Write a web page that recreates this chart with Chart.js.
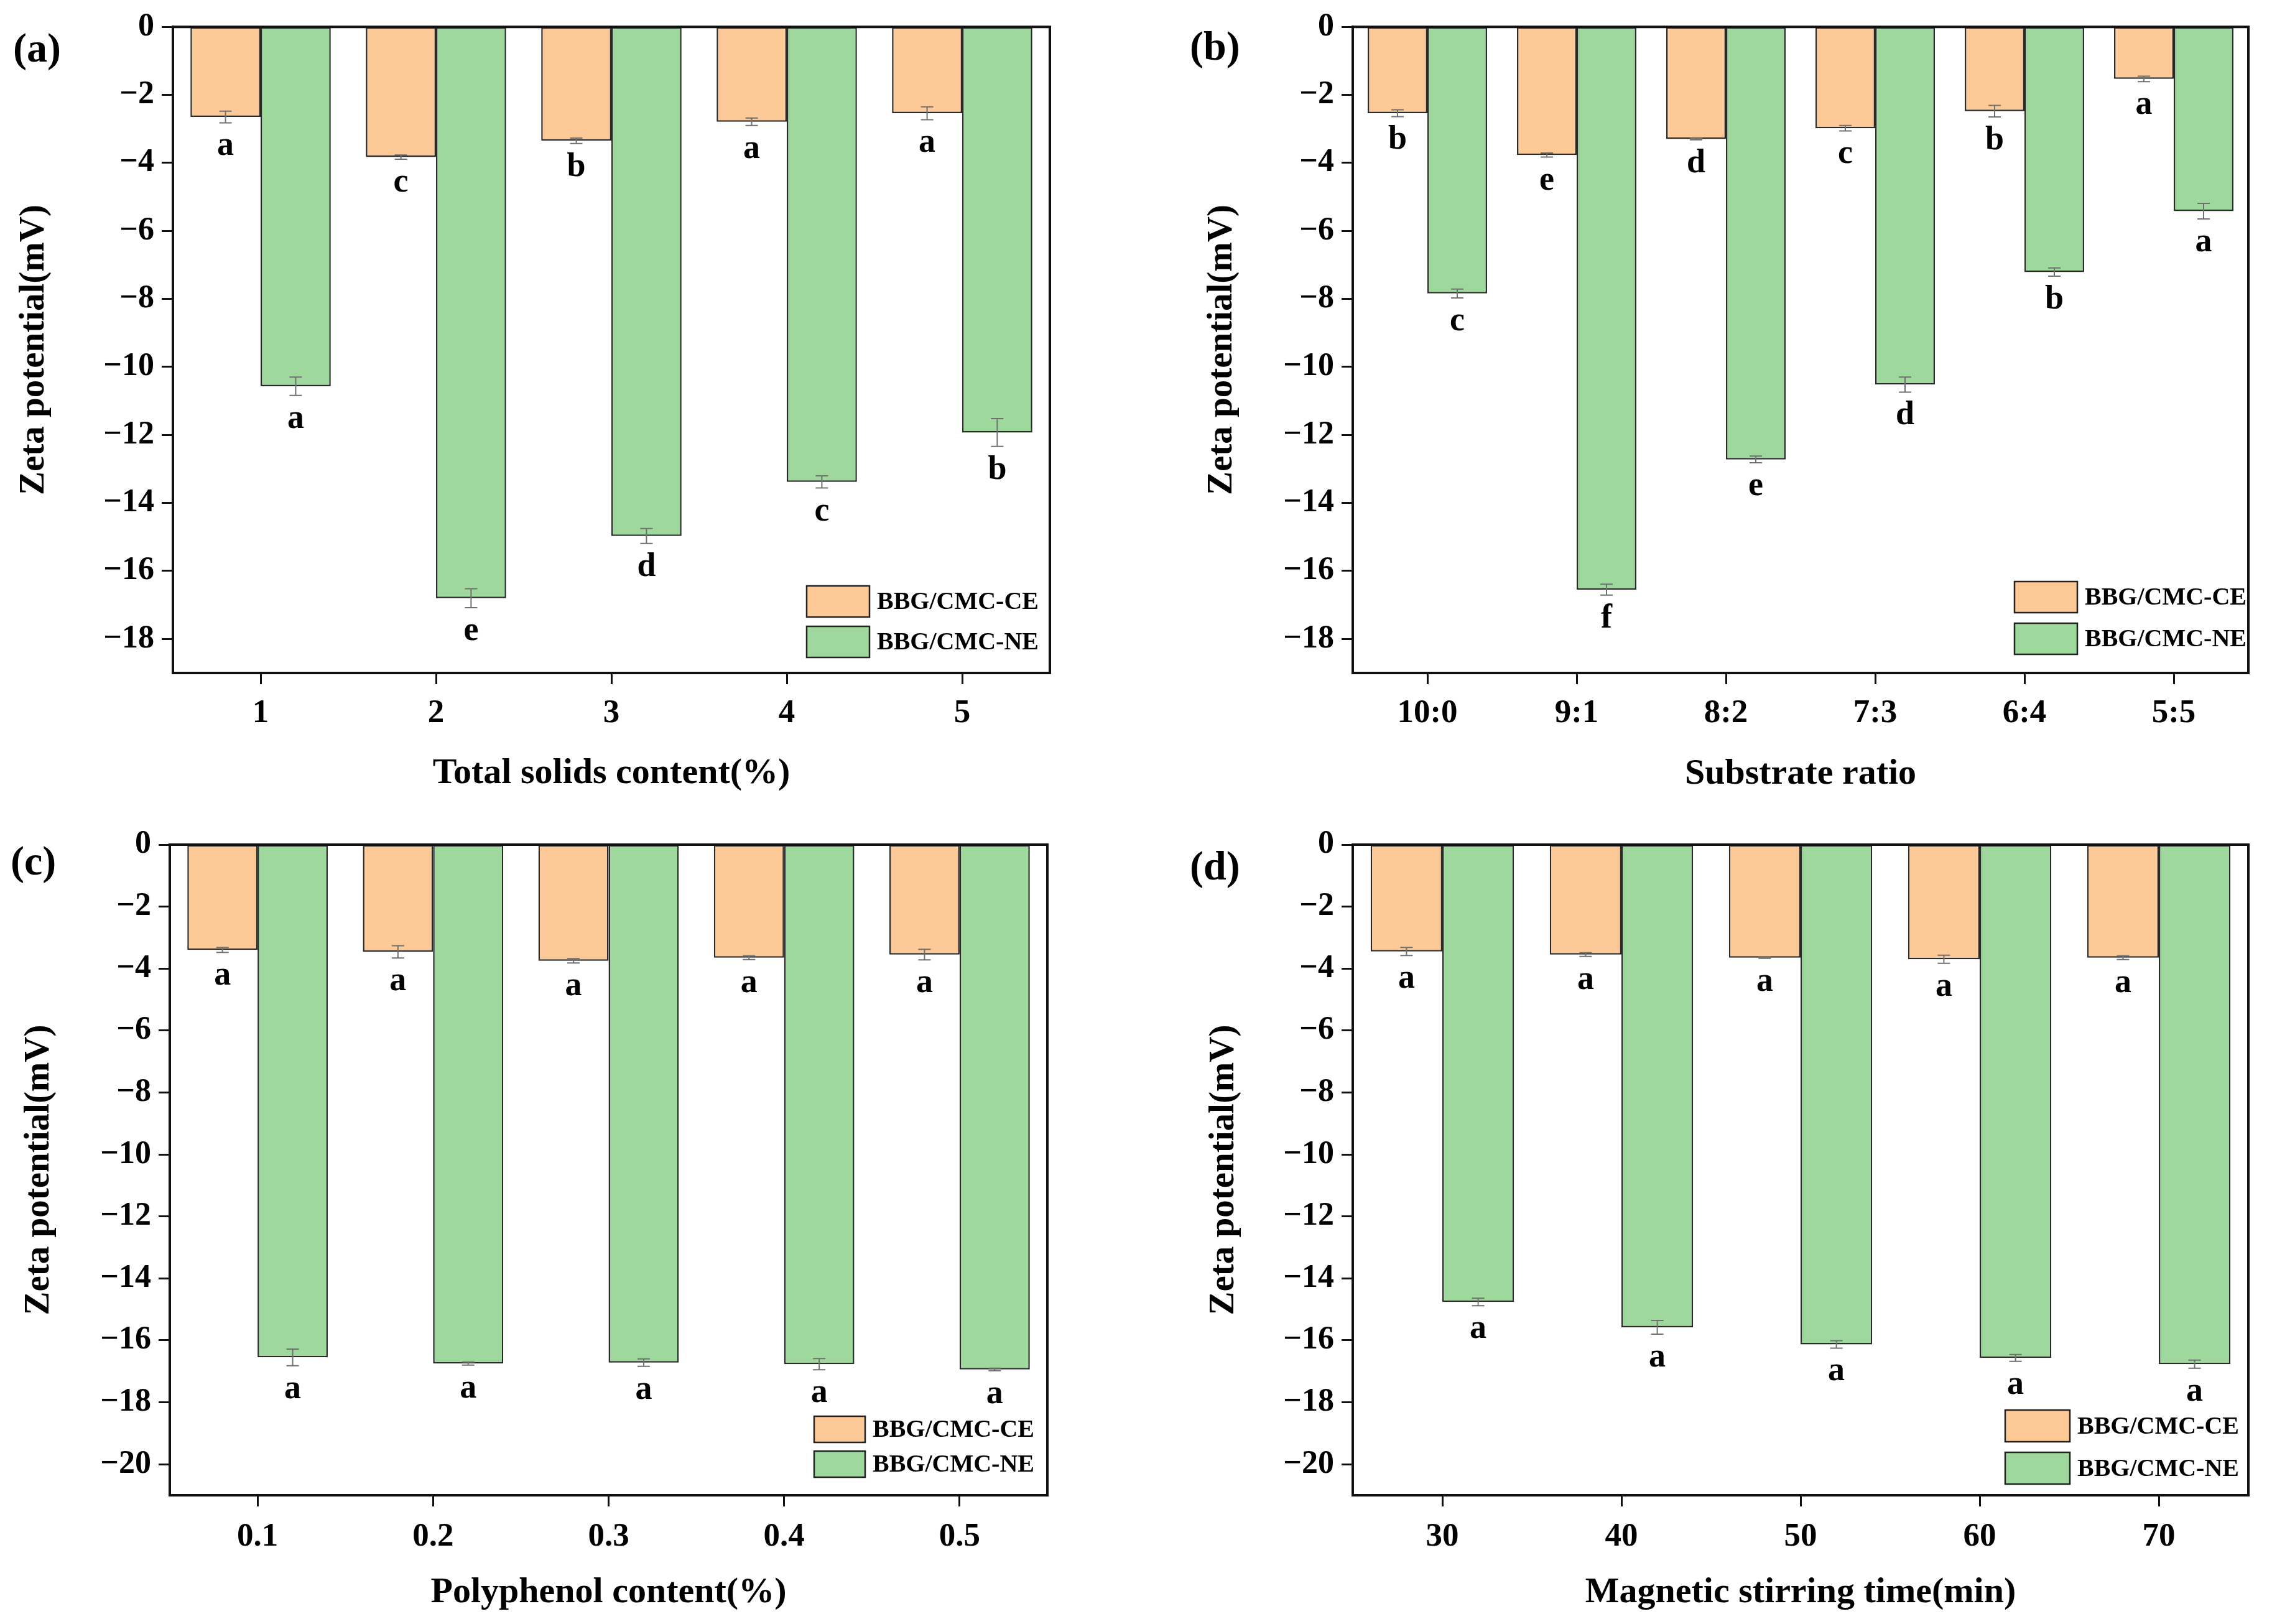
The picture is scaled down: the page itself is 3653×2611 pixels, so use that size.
<!DOCTYPE html>
<html>
<head>
<meta charset="utf-8">
<script src="https://cdn.jsdelivr.net/npm/chart.js@4.4.1/dist/chart.umd.min.js"></script>
<style>
  body { margin: 0; background: #fff; width: 3653px; height: 2611px; overflow: hidden; position: relative; }
  canvas { position: absolute; }
</style>
</head>
<body>
<canvas id="chartA" width="1800" height="1300" style="left:0px;top:0px;width:1800px;height:1300px"></canvas>
<canvas id="chartB" width="1800" height="1300" style="left:1850px;top:0px;width:1800px;height:1300px"></canvas>
<canvas id="chartC" width="1800" height="1300" style="left:0px;top:1310px;width:1800px;height:1300px"></canvas>
<canvas id="chartD" width="1800" height="1300" style="left:1850px;top:1310px;width:1800px;height:1300px"></canvas>
<script>
// series names
const seriesNames = ["BBG/CMC-CE", "BBG/CMC-NE"];

// (a) total solids content
const labelsA = ["1", "2", "3", "4", "5"];
const ceA = [-2.65, -3.83, -3.35, -2.79, -2.54];
const ceErrA = [0.17, 0.06, 0.08, 0.11, 0.19];
const neA = [-10.57, -16.80, -14.97, -13.38, -11.93];
const neErrA = [0.27, 0.28, 0.22, 0.18, 0.41];
const ceLetA = ["a", "c", "b", "a", "a"];
const neLetA = ["a", "e", "d", "c", "b"];

// (b) substrate ratio
const labelsB = ["10:0", "9:1", "8:2", "7:3", "6:4", "5:5"];
const ceB = [-2.54, -3.77, -3.30, -2.98, -2.48, -1.53];
const ceErrB = [0.10, 0.06, 0.02, 0.08, 0.17, 0.08];
const neB = [-7.84, -16.55, -12.72, -10.52, -7.21, -5.42];
const neErrB = [0.13, 0.16, 0.10, 0.22, 0.12, 0.23];
const ceLetB = ["b", "e", "d", "c", "b", "a"];
const neLetB = ["c", "f", "e", "d", "b", "a"];

// (c) polyphenol content
const labelsC = ["0.1", "0.2", "0.3", "0.4", "0.5"];
const ceC = [-3.40, -3.46, -3.75, -3.65, -3.55];
const ceErrC = [0.08, 0.20, 0.07, 0.06, 0.17];
const neC = [-16.55, -16.75, -16.72, -16.77, -16.94];
const neErrC = [0.27, 0.05, 0.12, 0.18, 0.04];
const ceLetC = ["a", "a", "a", "a", "a"];
const neLetC = ["a", "a", "a", "a", "a"];

// (d) magnetic stirring time
const labelsD = ["30", "40", "50", "60", "70"];
const ceD = [-3.45, -3.55, -3.65, -3.70, -3.65];
const ceErrD = [0.13, 0.06, 0.02, 0.13, 0.06];
const neD = [-14.76, -15.58, -16.13, -16.57, -16.77];
const neErrD = [0.12, 0.22, 0.12, 0.11, 0.13];
const ceLetD = ["a", "a", "a", "a", "a"];
const neLetD = ["a", "a", "a", "a", "a"];

// y axis ticks
const yTicksAB = [0, -2, -4, -6, -8, -10, -12, -14, -16, -18];
const yTicksCD = [0, -2, -4, -6, -8, -10, -12, -14, -16, -18, -20];

const FONT = "'Liberation Serif', 'Times New Roman', serif";
const ORANGE = "#fcc997";
const GREEN = "#9fd89c";

function extras(p) {
    return {
        id: "extras",
        afterDatasetsDraw(chart) {
            const ctx = chart.ctx;
            const y = chart.scales.y;
            const ca = chart.chartArea;
            ctx.save();

            // top and right frame
            ctx.strokeStyle = "#111";
            ctx.lineWidth = 4;
            ctx.beginPath();
            ctx.moveTo(ca.left - 2, ca.top);
            ctx.lineTo(ca.right, ca.top);
            ctx.lineTo(ca.right, ca.bottom + 2);
            ctx.stroke();

            // error bars and letters
            const errs = [p.ceErr, p.neErr];
            const lets = [p.ceLet, p.neLet];
            for (let di = 0; di < 2; di++) {
                const meta = chart.getDatasetMeta(di);
                const vals = chart.data.datasets[di].data;
                meta.data.forEach(function (bar, i) {
                    const v = vals[i], e = errs[di][i];
                    const y1 = y.getPixelForValue(v - e);
                    const y2 = y.getPixelForValue(v + e);
                    ctx.strokeStyle = "#707070";
                    ctx.lineWidth = 2;
                    ctx.beginPath();
                    ctx.moveTo(bar.x, y1); ctx.lineTo(bar.x, y2);
                    ctx.moveTo(bar.x - 10, y1); ctx.lineTo(bar.x + 10, y1);
                    ctx.moveTo(bar.x - 10, y2); ctx.lineTo(bar.x + 10, y2);
                    ctx.stroke();

                    ctx.fillStyle = "#000";
                    ctx.font = "bold 54px " + FONT;
                    ctx.textAlign = "center";
                    ctx.textBaseline = "middle";
                    ctx.fillText(lets[di][i], bar.x, y1 + 38);
                });
            }

            // legend
            const lg = p.legend;
            const bx = ca.right - lg.dx;
            [ORANGE, GREEN].forEach(function (col, k) {
                const by = ca.bottom - lg.top + k * lg.gap;
                ctx.fillStyle = col;
                ctx.fillRect(bx, by, lg.w, lg.h);
                ctx.strokeStyle = "#222";
                ctx.lineWidth = 2.5;
                ctx.strokeRect(bx, by, lg.w, lg.h);
                ctx.fillStyle = "#000";
                ctx.font = "bold 40px " + FONT;
                ctx.textAlign = "left";
                ctx.textBaseline = "middle";
                ctx.fillText(seriesNames[k], bx + lg.w + 12, by + lg.h / 2 + 2);
            });

            // panel tag
            ctx.fillStyle = "#000";
            ctx.font = "bold 66px " + FONT;
            ctx.textAlign = "left";
            ctx.textBaseline = "middle";
            ctx.fillText(p.tag, p.tagX, p.tagY);

            ctx.restore();
        }
    };
}

function makeChart(id, p) {
    const ctx = document.getElementById(id);
    new Chart(ctx, {
        type: "bar",
        data: {
            labels: p.labels,
            datasets: [{
                label: seriesNames[0],
                data: p.ce,
                backgroundColor: ORANGE,
                borderColor: "#2a2a2a",
                borderWidth: 2.5,
                borderSkipped: false
            }, {
                label: seriesNames[1],
                data: p.ne,
                backgroundColor: GREEN,
                borderColor: "#2a2a2a",
                borderWidth: 2.5,
                borderSkipped: false
            }]
        },
        options: {
            responsive: false,
            animation: false,
            devicePixelRatio: 1,
            categoryPercentage: 0.8,
            barPercentage: 1.0,
            layout: {
                padding: { left: 0, top: p.top, right: p.padRight, bottom: 0 }
            },
            plugins: {
                legend: { display: false },
                tooltip: { enabled: false }
            },
            scales: {
                x: {
                    type: "category",
                    offset: true,
                    afterFit: function (s) { s.height = p.xh; },
                    grid: {
                        offset: false,
                        drawOnChartArea: false,
                        drawTicks: true,
                        tickLength: 18,
                        tickWidth: 3,
                        color: "#111"
                    },
                    border: { display: true, color: "#111", width: 4 },
                    ticks: {
                        autoSkip: false,
                        maxRotation: 0,
                        padding: p.xPad,
                        color: "#000",
                        font: { family: FONT, size: 53, weight: "bold" }
                    },
                    title: {
                        display: true,
                        text: p.xTitle,
                        color: "#000",
                        font: { family: FONT, size: 58, weight: "bold" },
                        padding: { top: 0, bottom: p.xTitlePad }
                    }
                },
                y: {
                    min: p.yMin,
                    max: 0,
                    afterFit: function (s) { s.width = p.yw; },
                    afterBuildTicks: function (s) {
                        s.ticks = p.yTicks.map(function (v) { return { value: v }; });
                    },
                    grid: {
                        drawOnChartArea: false,
                        drawTicks: true,
                        tickLength: 18,
                        tickWidth: 3,
                        color: "#111"
                    },
                    border: { display: true, color: "#111", width: 4 },
                    ticks: {
                        padding: 12,
                        color: "#000",
                        font: { family: FONT, size: 52, weight: "bold" },
                        callback: function (v) { return v === 0 ? "0" : "\u2212" + Math.abs(v); }
                    },
                    title: {
                        display: true,
                        text: "Zeta potential(mV)",
                        color: "#000",
                        font: { family: FONT, size: 57, weight: "bold" },
                        padding: { top: p.yTitlePad, bottom: 0 }
                    }
                }
            }
        },
        plugins: [extras(p)]
    });
}

document.addEventListener("DOMContentLoaded", function () {

    makeChart("chartA", {
        labels: labelsA, ce: ceA, ne: neA, ceErr: ceErrA, neErr: neErrA, ceLet: ceLetA, neLet: neLetA,
        yTicks: yTicksAB, yMin: -19, xTitle: "Total solids content(%)",
        yw: 278, top: 40, padRight: 112, xh: 218, xPad: 16, xTitlePad: 21, yTitlePad: 21,
        tag: "(a)", tagX: 21, tagY: 82,
        legend: { dx: 391, w: 101, h: 50, top: 140, gap: 65 }
    });

    makeChart("chartB", {
        labels: labelsB, ce: ceB, ne: neB, ceErr: ceErrB, neErr: neErrB, ceLet: ceLetB, neLet: neLetB,
        yTicks: yTicksAB, yMin: -19, xTitle: "Substrate ratio",
        yw: 325, top: 40, padRight: 35, xh: 218, xPad: 16, xTitlePad: 20, yTitlePad: 81,
        tag: "(b)", tagX: 63, tagY: 79,
        legend: { dx: 376, w: 101, h: 50, top: 147, gap: 67 }
    });

    makeChart("chartC", {
        labels: labelsC, ce: ceC, ne: neC, ceErr: ceErrC, neErr: neErrC, ceLet: ceLetC, neLet: neLetC,
        yTicks: yTicksCD, yMin: -21, xTitle: "Polyphenol content(%)",
        yw: 273, top: 48, padRight: 116, xh: 206, xPad: 18, xTitlePad: 14, yTitlePad: 29,
        tag: "(c)", tagX: 17, tagY: 79,
        legend: { dx: 375, w: 82, h: 42, top: 127, gap: 56 }
    });

    makeChart("chartD", {
        labels: labelsD, ce: ceD, ne: neD, ceErr: ceErrD, neErr: neErrD, ceLet: ceLetD, neLet: neLetD,
        yTicks: yTicksCD, yMin: -21, xTitle: "Magnetic stirring time(min)",
        yw: 325, top: 48, padRight: 35, xh: 206, xPad: 18, xTitlePad: 14, yTitlePad: 84,
        tag: "(d)", tagX: 63, tagY: 87,
        legend: { dx: 391, w: 104, h: 51, top: 137, gap: 68 }
    });

});
</script>
</body>
</html>
